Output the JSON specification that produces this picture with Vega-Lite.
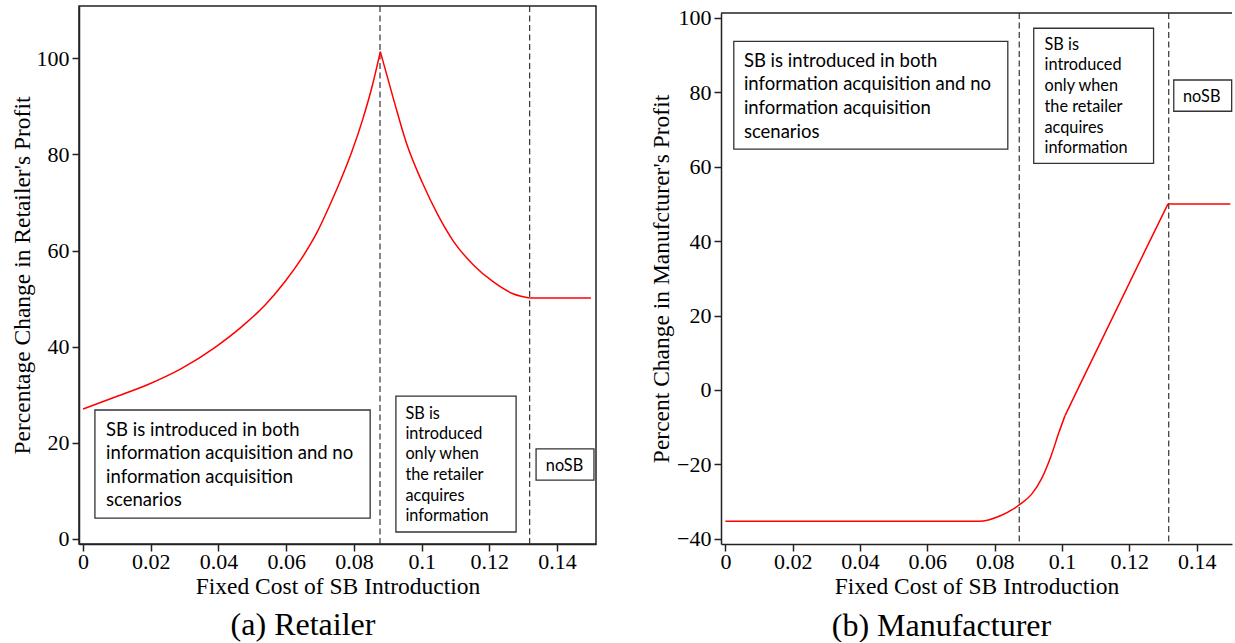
{
  "$schema": "https://vega.github.io/schema/vega-lite/v6.json",
  "padding": {"left": 9, "top": 4, "right": 0, "bottom": 0},
  "autosize": {"type": "pad"},
  "background": "white",
  "config": {
    "font": "Liberation Serif",
    "view": {"stroke": "#222", "strokeWidth": 1.5},
    "axis": {
      "domainColor": "#222", "domainWidth": 1.5, "tickColor": "#222", "tickWidth": 1.5, "tickSize": 7,
      "labelFont": "Liberation Serif", "labelFontSize": 22, "labelColor": "#000", "labelPadding": 3,
      "labelFlush": false, "labelOverlap": false, "labelBound": false,
      "titleFont": "Liberation Serif", "titleFontSize": 23.5, "titleFontWeight": "normal", "titleColor": "#000",
      "grid": false
    }
  },
  "datasets": {
    "retailer": [
      {"c": 0, "v": 27.0, "s": "up"}, {"c": 0.0095, "v": 29.5, "s": "up"}, {"c": 0.0192, "v": 32.1, "s": "up"}, {"c": 0.029, "v": 35.4, "s": "up"},
      {"c": 0.0389, "v": 39.8, "s": "up"}, {"c": 0.0468, "v": 44.1, "s": "up"}, {"c": 0.0537, "v": 48.6, "s": "up"}, {"c": 0.0596, "v": 53.5, "s": "up"},
      {"c": 0.0645, "v": 58.3, "s": "up"}, {"c": 0.0689, "v": 63.5, "s": "up"}, {"c": 0.0733, "v": 70.1, "s": "up"}, {"c": 0.0767, "v": 75.7, "s": "up"},
      {"c": 0.0794, "v": 80.6, "s": "up"}, {"c": 0.0826, "v": 87.3, "s": "up"}, {"c": 0.0855, "v": 94.5, "s": "up"}, {"c": 0.0878, "v": 101.4, "s": "up"},
      {"c": 0.0878, "v": 101.4, "s": "down"}, {"c": 0.0919, "v": 91.0, "s": "down"}, {"c": 0.0954, "v": 82.6, "s": "down"},
      {"c": 0.1001, "v": 74.3, "s": "down"}, {"c": 0.1048, "v": 67.4, "s": "down"}, {"c": 0.1095, "v": 61.8, "s": "down"}, {"c": 0.1153, "v": 57.0, "s": "down"},
      {"c": 0.1211, "v": 53.5, "s": "down"}, {"c": 0.127, "v": 51.0, "s": "down"}, {"c": 0.1319, "v": 50.1, "s": "down"},
      {"c": 0.1319, "v": 50.1, "s": "flat"}, {"c": 0.15, "v": 50.1, "s": "flat"}
    ],
    "manufacturer": [
      {"c": 0, "v": -35.3, "s": "a"}, {"c": 0.0753, "v": -35.3, "s": "a"}, {"c": 0.0817, "v": -33.8, "s": "a"}, {"c": 0.0873, "v": -30.9, "s": "a"},
      {"c": 0.091, "v": -28.0, "s": "a"}, {"c": 0.0939, "v": -23.9, "s": "a"}, {"c": 0.0968, "v": -17.6, "s": "a"}, {"c": 0.0991, "v": -11.4, "s": "a"},
      {"c": 0.1009, "v": -6.9, "s": "a"},
      {"c": 0.1009, "v": -6.9, "s": "b"}, {"c": 0.1057, "v": 2.1, "s": "b"}, {"c": 0.1245, "v": 37.1, "s": "b"},
      {"c": 0.1315, "v": 50.0, "s": "b"},
      {"c": 0.1315, "v": 50.0, "s": "c"}, {"c": 0.15, "v": 50.0, "s": "c"}
    ],
    "thrA": [{"c": 0.0877}, {"c": 0.1319}],
    "thrB": [{"c": 0.0873}, {"c": 0.1317}],
    "boxesA": [
      {"x1": 0.0035, "x2": 0.0848, "y1": 26.8, "y2": 4.3},
      {"x1": 0.0924, "x2": 0.1279, "y1": 29.7, "y2": 1.4},
      {"x1": 0.1338, "x2": 0.1509, "y1": 18.7, "y2": 12.2}
    ],
    "boxesB": [
      {"x1": 0.0025, "x2": 0.0839, "y1": 93.7, "y2": 64.7},
      {"x1": 0.0916, "x2": 0.1272, "y1": 97.2, "y2": 60.9},
      {"x1": 0.1332, "x2": 0.1504, "y1": 83.3, "y2": 74.9}
    ],
    "bigA": [
      {"x": 0.0068, "y": 22.65, "t": "SB is introduced in both"},
      {"x": 0.0068, "y": 17.8, "t": "information acquisition and no"},
      {"x": 0.0068, "y": 12.95, "t": "information acquisition"},
      {"x": 0.0068, "y": 8.1, "t": "scenarios"}
    ],
    "smallA": [
      {"x": 0.0952, "y": 26.0, "t": "SB is"},
      {"x": 0.0952, "y": 21.8, "t": "introduced"},
      {"x": 0.0952, "y": 17.6, "t": "only when"},
      {"x": 0.0952, "y": 13.3, "t": "the retailer"},
      {"x": 0.0952, "y": 8.9, "t": "acquires"},
      {"x": 0.0952, "y": 4.7, "t": "information"}
    ],
    "nosbA": [{"x": 0.1422, "y": 15.1, "t": "noSB"}],
    "bigB": [
      {"x": 0.0055, "y": 88.4, "t": "SB is introduced in both"},
      {"x": 0.0055, "y": 82.1, "t": "information acquisition and no"},
      {"x": 0.0055, "y": 75.7, "t": "information acquisition"},
      {"x": 0.0055, "y": 69.3, "t": "scenarios"}
    ],
    "smallB": [
      {"x": 0.0948, "y": 92.7, "t": "SB is"},
      {"x": 0.0948, "y": 87.4, "t": "introduced"},
      {"x": 0.0948, "y": 81.8, "t": "only when"},
      {"x": 0.0948, "y": 76.0, "t": "the retailer"},
      {"x": 0.0948, "y": 70.4, "t": "acquires"},
      {"x": 0.0948, "y": 65.1, "t": "information"}
    ],
    "nosbB": [{"x": 0.1415, "y": 78.7, "t": "noSB"}],
    "topB": [{"y": 101.3}]
  },
  "hconcat": [
    {
      "width": 517,
      "height": 538,
      "title": {"text": "(a) Retailer", "orient": "bottom", "anchor": "middle", "frame": "bounds", "font": "Liberation Serif", "fontSize": 32, "fontWeight": "normal", "color": "#000", "offset": 12},
      "layer": [
        {
          "data": {"name": "thrA"},
          "mark": {"type": "rule", "color": "#333", "strokeDash": [6, 3.5], "strokeWidth": 1.2},
          "encoding": {
            "x": {"field": "c", "type": "quantitative", "scale": {"domain": [-0.0012, 0.1515], "nice": false, "zero": false},
              "axis": {"values": [0, 0.02, 0.04, 0.06, 0.08, 0.1, 0.12, 0.14], "format": "~g", "title": "Fixed Cost of SB Introduction", "labelPadding": 0, "titlePadding": 2}}
          }
        },
        {
          "data": {"name": "retailer"},
          "mark": {"type": "line", "color": "#ff0000", "strokeWidth": 1.5, "interpolate": "monotone"},
          "encoding": {
            "x": {"field": "c", "type": "quantitative", "scale": {"domain": [-0.0012, 0.1515], "nice": false, "zero": false}},
            "y": {"field": "v", "type": "quantitative", "scale": {"domain": [-1.1, 110.9], "nice": false, "zero": false},
              "axis": {"values": [0, 20, 40, 60, 80, 100], "title": "Percentage Change in Retailer's Profit", "titlePadding": 2}},
            "detail": {"field": "s"}
          }
        },
        {
          "data": {"name": "boxesA"},
          "mark": {"type": "rect", "fill": "white", "stroke": "#333", "strokeWidth": 1.3},
          "encoding": {
            "x": {"field": "x1", "type": "quantitative"}, "x2": {"field": "x2"},
            "y": {"field": "y1", "type": "quantitative"}, "y2": {"field": "y2"}
          }
        },
        {
          "data": {"name": "bigA"},
          "mark": {"type": "text", "font": "Lato", "fontSize": 18.5, "align": "left", "baseline": "middle", "color": "#000"},
          "encoding": {"x": {"field": "x", "type": "quantitative"}, "y": {"field": "y", "type": "quantitative"}, "text": {"field": "t"}}
        },
        {
          "data": {"name": "smallA"},
          "mark": {"type": "text", "font": "Lato", "fontSize": 16.3, "align": "left", "baseline": "middle", "color": "#000"},
          "encoding": {"x": {"field": "x", "type": "quantitative"}, "y": {"field": "y", "type": "quantitative"}, "text": {"field": "t"}}
        },
        {
          "data": {"name": "nosbA"},
          "mark": {"type": "text", "font": "Lato", "fontSize": 16.3, "align": "center", "baseline": "middle", "color": "#000"},
          "encoding": {"x": {"field": "x", "type": "quantitative"}, "y": {"field": "y", "type": "quantitative"}, "text": {"field": "t"}}
        }
      ]
    },
    {
      "vconcat": [
        {
          "data": {"values": []},
          "mark": "point",
          "width": 511,
          "height": 1,
          "view": {"stroke": null}
        },
        {
          "width": 511,
          "height": 531,
          "view": {"stroke": null},
          "title": {"text": "(b) Manufacturer", "orient": "bottom", "anchor": "middle", "frame": "bounds", "font": "Liberation Serif", "fontSize": 32, "fontWeight": "normal", "color": "#000", "offset": 13},
          "layer": [
            {
              "data": {"name": "thrB"},
              "mark": {"type": "rule", "color": "#333", "strokeDash": [6, 3.5], "strokeWidth": 1.2},
              "encoding": {
                "x": {"field": "c", "type": "quantitative", "scale": {"domain": [-0.0013, 0.1505], "nice": false, "zero": false},
                  "axis": {"values": [0, 0.02, 0.04, 0.06, 0.08, 0.1, 0.12, 0.14], "format": "~g", "title": "Fixed Cost of SB Introduction", "labelPadding": 0, "titlePadding": 2}}
              }
            },
            {
              "data": {"name": "topB"},
              "mark": {"type": "rule", "color": "#222", "strokeWidth": 1.5},
              "encoding": {
                "y": {"field": "y", "type": "quantitative", "scale": {"domain": [-41.4, 101.3], "nice": false, "zero": false}}
              }
            },
            {
              "data": {"name": "manufacturer"},
              "mark": {"type": "line", "color": "#ff0000", "strokeWidth": 1.5, "interpolate": "monotone"},
              "encoding": {
                "x": {"field": "c", "type": "quantitative", "scale": {"domain": [-0.0013, 0.1505], "nice": false, "zero": false}},
                "y": {"field": "v", "type": "quantitative", "scale": {"domain": [-41.4, 101.3], "nice": false, "zero": false},
                  "axis": {"values": [-40, -20, 0, 20, 40, 60, 80, 100], "title": "Percent Change in Manufcturer's Profit", "titlePadding": 3}},
                "detail": {"field": "s"}
              }
            },
            {
              "data": {"name": "boxesB"},
              "mark": {"type": "rect", "fill": "white", "stroke": "#333", "strokeWidth": 1.3},
              "encoding": {
                "x": {"field": "x1", "type": "quantitative"}, "x2": {"field": "x2"},
                "y": {"field": "y1", "type": "quantitative"}, "y2": {"field": "y2"}
              }
            },
            {
              "data": {"name": "bigB"},
              "mark": {"type": "text", "font": "Lato", "fontSize": 18.5, "align": "left", "baseline": "middle", "color": "#000"},
              "encoding": {"x": {"field": "x", "type": "quantitative"}, "y": {"field": "y", "type": "quantitative"}, "text": {"field": "t"}}
            },
            {
              "data": {"name": "smallB"},
              "mark": {"type": "text", "font": "Lato", "fontSize": 16.3, "align": "left", "baseline": "middle", "color": "#000"},
              "encoding": {"x": {"field": "x", "type": "quantitative"}, "y": {"field": "y", "type": "quantitative"}, "text": {"field": "t"}}
            },
            {
              "data": {"name": "nosbB"},
              "mark": {"type": "text", "font": "Lato", "fontSize": 16.3, "align": "center", "baseline": "middle", "color": "#000"},
              "encoding": {"x": {"field": "x", "type": "quantitative"}, "y": {"field": "y", "type": "quantitative"}, "text": {"field": "t"}}
            }
          ]
        }
      ],
      "spacing": 6,
      "bounds": "flush"
    }
  ],
  "spacing": 125,
  "bounds": "flush"
}
